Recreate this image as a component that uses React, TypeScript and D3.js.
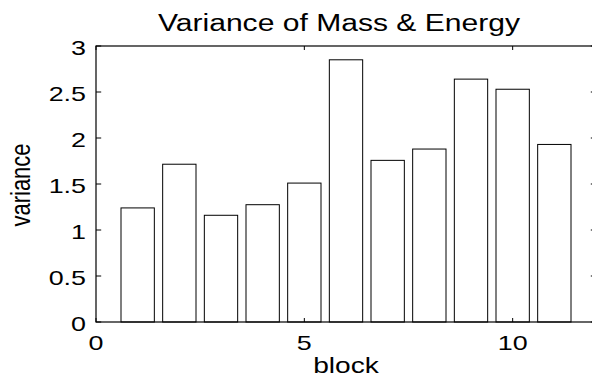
import React from "react";
import * as d3 from "d3";

// Per-block variance values
const blocks = [1, 2, 3, 4, 5, 6, 7, 8, 9, 10, 11];
const variances = [1.24, 1.715, 1.16, 1.275, 1.51, 2.85, 1.757, 1.88, 2.64, 2.53, 1.93];
const xTicks = [0, 5, 10];
const yTicks = [0, 0.5, 1, 1.5, 2, 2.5, 3];

const W = 592;
const H = 381;
const left = 96;
const right = 596;
const top = 46;
const bottom = 322;
const sx = 1.28; // horizontal widening of the text
const font = "'Liberation Sans', Arial, Helvetica, sans-serif";

function Label({ x, y, size, anchor = "middle", rotate = 0, children }: any) {
  return (
    <text
      transform={`translate(${x},${y}) scale(${sx},1) rotate(${rotate})`}
      textAnchor={anchor}
      fontSize={size}
      fill="#000"
    >
      {children}
    </text>
  );
}

export default function App() {
  const x = d3.scaleLinear().domain([0, 12]).range([left, right]);
  const y = d3.scaleLinear().domain([0, 3]).range([bottom, top]);
  const barW = x(0.8) - x(0);
  const xTickLen = 4;
  const yTickLen = 5.2;

  return (
    <svg
      width={W}
      height={H}
      style={{ position: "absolute", left: 0, top: 0, background: "#fff" }}
      fontFamily={font}
    >
      <Label x={339} y={31} size={23.5}>
        Variance of Mass &amp; Energy
      </Label>

      {blocks.map((b, i) => (
        <rect
          key={b}
          x={x(b) - barW / 2}
          y={y(variances[i])}
          width={barW}
          height={y(0) - y(variances[i])}
          fill="#fff"
          stroke="#000"
          strokeWidth={1}
        />
      ))}

      {/* axes box */}
      <rect x={left} y={top} width={right - left} height={bottom - top} fill="none" stroke="#000" strokeWidth={1.2} />

      {xTicks.map((t) => (
        <g key={"x" + t}>
          <line x1={x(t)} x2={x(t)} y1={bottom} y2={bottom - xTickLen} stroke="#000" />
          <line x1={x(t)} x2={x(t)} y1={top} y2={top + xTickLen} stroke="#000" />
          <Label x={x(t)} y={350} size={21}>
            {t}
          </Label>
        </g>
      ))}

      {yTicks.map((t) => (
        <g key={"y" + t}>
          <line x1={left} x2={left + yTickLen} y1={y(t)} y2={y(t)} stroke="#000" />
          <line x1={right} x2={right - yTickLen} y1={y(t)} y2={y(t)} stroke="#000" />
          <Label x={86} y={y(t) + 9} size={21} anchor="end">
            {t}
          </Label>
        </g>
      ))}

      <Label x={346} y={373} size={22}>
        block
      </Label>
      <Label x={30} y={185} size={22} rotate={-90}>
        variance
      </Label>
    </svg>
  );
}
